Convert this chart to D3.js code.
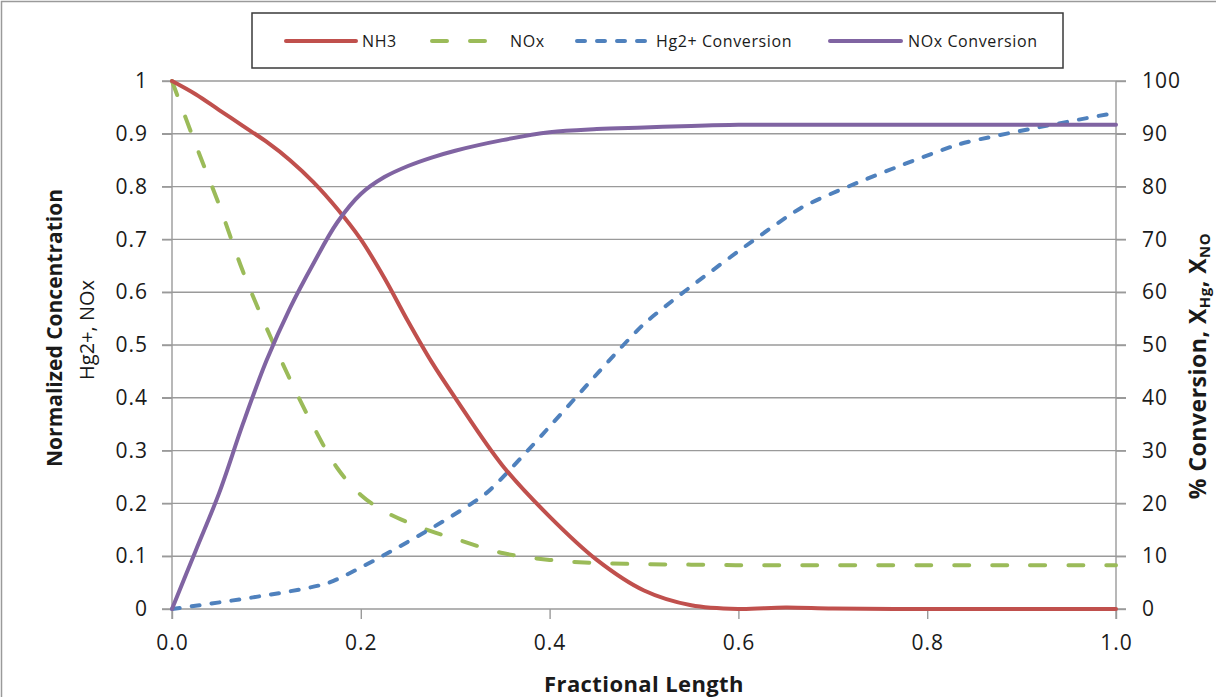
<!DOCTYPE html>
<html>
<head>
<meta charset="utf-8">
<script src="https://cdn.jsdelivr.net/npm/d3@7"></script>
<style>
  html, body { margin: 0; padding: 0; background: #fff; }
  svg { display: block; }
  text { font-family: "Open Sans", "Liberation Sans", sans-serif; fill: #1a1a1a; }
</style>
</head>
<body>
<svg id="chart" width="1216" height="697"></svg>
<script>
// Fractional position along the reactor
const fracX = [0, 0.025, 0.05, 0.075, 0.1, 0.125, 0.15, 0.175, 0.2, 0.225, 0.25, 0.275, 0.3, 0.35, 0.4, 0.45, 0.5, 0.55, 0.6, 0.65, 0.7, 0.8, 0.9, 1.0];
// Normalized NH3 concentration (left axis)
const nh3 = [1.0, 0.975, 0.945, 0.915, 0.885, 0.85, 0.808, 0.758, 0.70, 0.627, 0.545, 0.468, 0.40, 0.272, 0.175, 0.093, 0.035, 0.007, 0.0, 0.003, 0.001, 0.0, 0.0, 0.0];
// Normalized NOx concentration (left axis)
const nox = [1.0, 0.88, 0.765, 0.64, 0.533, 0.435, 0.345, 0.267, 0.216, 0.185, 0.164, 0.147, 0.133, 0.106, 0.093, 0.087, 0.085, 0.084, 0.083, 0.083, 0.083, 0.083, 0.083, 0.083];
// NOx conversion, % (right axis)
const noxConv = [0, 11, 22, 35, 47, 57, 65.5, 73.2, 78.6, 81.8, 83.9, 85.5, 86.8, 88.8, 90.3, 90.9, 91.2, 91.5, 91.7, 91.7, 91.7, 91.7, 91.7, 91.7];
// Hg2+ conversion, % (right axis), sampled at sixths of the length
const hgX = [0, 1/6, 2/6, 3/6, 4/6, 5/6, 1.0];
const hgConv = [0, 5, 22, 54, 76, 88, 94];

const xTicks = [0, 0.2, 0.4, 0.6, 0.8, 1.0];
const leftTicks = [0, 0.1, 0.2, 0.3, 0.4, 0.5, 0.6, 0.7, 0.8, 0.9, 1];
const rightTicks = [0, 10, 20, 30, 40, 50, 60, 70, 80, 90, 100];

const legendItems = [
  { name: "NH3", color: "#C0504D", dash: null },
  { name: "NOx", color: "#9BBB59", dash: "15 23" },
  { name: "Hg2+ Conversion", color: "#4F81BD", dash: "8 12" },
  { name: "NOx Conversion", color: "#8064A2", dash: null }
];

const svg = d3.select("#chart");
const plot = { left: 172, right: 1116, top: 81, bottom: 609 };

const x = d3.scaleLinear().domain([0, 1]).range([plot.left, plot.right]);
const yL = d3.scaleLinear().domain([0, 1]).range([plot.bottom, plot.top]);
const yR = d3.scaleLinear().domain([0, 100]).range([plot.bottom, plot.top]);

// chart frame
svg.append("rect").attr("x", 1.5).attr("y", 1.5).attr("width", 1400).attr("height", 900)
  .attr("fill", "none").attr("stroke", "#9a9a9a").attr("stroke-width", 1.5);

// horizontal gridlines (extend across both tick marks)
svg.append("g").selectAll("line").data(leftTicks.slice(1)).join("line")
  .attr("x1", plot.left - 10).attr("x2", plot.right + 10)
  .attr("y1", d => yL(d)).attr("y2", d => yL(d))
  .attr("stroke", "#9a9a9a").attr("stroke-width", 1.4);

// left axis
const gL = svg.append("g").attr("transform", `translate(${plot.left},0)`)
  .call(d3.axisLeft(yL).tickValues(leftTicks).tickSize(10).tickPadding(14)
    .tickFormat(d => d3.format("~g")(d)));
// right axis
const gR = svg.append("g").attr("transform", `translate(${plot.right},0)`)
  .call(d3.axisRight(yR).tickValues(rightTicks).tickSize(10).tickPadding(16));
// bottom axis
const gB = svg.append("g").attr("transform", `translate(0,${plot.bottom})`)
  .call(d3.axisBottom(x).tickValues(xTicks).tickSize(10).tickPadding(16)
    .tickFormat(d3.format(".1f")));

[gL, gR, gB].forEach(g => {
  g.select(".domain").attr("stroke", "#9a9a9a").attr("stroke-width", 1.4);
  g.selectAll(".tick line").attr("stroke", "#9a9a9a").attr("stroke-width", 1.4);
  g.selectAll(".tick text").attr("font-size", 21).attr("fill", "#1a1a1a")
    .attr("letter-spacing", 1)
    .style("font-family", '"Open Sans", sans-serif');
});
gL.select(".domain").attr("d", `M0,${plot.top}V${plot.bottom + 10}`);
gR.select(".domain").attr("d", `M0,${plot.top}V${plot.bottom + 10}`);
gB.select(".domain").attr("d", `M${plot.left - 10},0H${plot.right + 10}`);

// series
const line = (xs, ys, yScale, curve) => d3.line()
  .x((d, i) => x(xs[i])).y(d => yScale(d))
  .curve(curve)(ys);

const series = [
  { data: nox, xs: fracX, y: yL, item: legendItems[1], curve: d3.curveCatmullRom.alpha(0.5) },
  { data: hgConv, xs: hgX, y: yR, item: legendItems[2], curve: d3.curveCardinal.tension(0.55) },
  { data: nh3, xs: fracX, y: yL, item: legendItems[0], curve: d3.curveCatmullRom.alpha(0.5) },
  { data: noxConv, xs: fracX, y: yR, item: legendItems[3], curve: d3.curveCatmullRom.alpha(0.5) }
];
series.forEach(s => {
  svg.append("path").attr("d", line(s.xs, s.data, s.y, s.curve))
    .attr("fill", "none").attr("stroke", s.item.color).attr("stroke-width", 4)
    .attr("stroke-linecap", "round").attr("stroke-linejoin", "round")
    .attr("stroke-dasharray", s.item.dash);
});

// legend
svg.append("rect").attr("x", 252).attr("y", 13).attr("width", 811).attr("height", 55)
  .attr("fill", "#fff").attr("stroke", "#3a3a3a").attr("stroke-width", 1.5);
const legendPos = [
  { x0: 286, x1: 356, tx: 362 },
  { x0: 432, x1: 486, tx: 510 },
  { x0: 577, x1: 650, tx: 656 },
  { x0: 830, x1: 901, tx: 908 }
];
legendItems.forEach((it, i) => {
  const p = legendPos[i];
  svg.append("line").attr("x1", p.x0).attr("x2", p.x1).attr("y1", 41).attr("y2", 41)
    .attr("stroke", it.color).attr("stroke-width", 4).attr("stroke-linecap", "round")
    .attr("stroke-dasharray", it.dash);
  svg.append("text").attr("x", p.tx).attr("y", 41).attr("dy", "0.35em")
    .attr("font-size", 16).attr("letter-spacing", 0.6).attr("fill", "#262626").text(it.name);
});

// axis titles
svg.append("text").attr("x", 644).attr("y", 692).attr("text-anchor", "middle")
  .attr("font-size", 22).attr("letter-spacing", 0.4).attr("font-weight", "bold")
  .text("Fractional Length");

svg.append("text").attr("transform", "translate(62,328) rotate(-90)")
  .attr("text-anchor", "middle").attr("font-size", 21).attr("font-weight", "bold")
  .text("Normalized Concentration");
svg.append("text").attr("transform", "translate(94,330) rotate(-90)")
  .attr("text-anchor", "middle").attr("font-size", 20)
  .text("Hg2+, NOx");

const rt = svg.append("text").attr("transform", "translate(1206,366) rotate(-90)")
  .attr("text-anchor", "middle").attr("font-size", 23).attr("font-weight", "bold")
  .attr("letter-spacing", 0.5);
rt.append("tspan").text("% Conversion, X");
rt.append("tspan").attr("font-size", 15).attr("dy", 4).text("Hg");
rt.append("tspan").attr("dy", -4).text(", X");
rt.append("tspan").attr("font-size", 15).attr("dy", 4).text("NO");
</script>
</body>
</html>
